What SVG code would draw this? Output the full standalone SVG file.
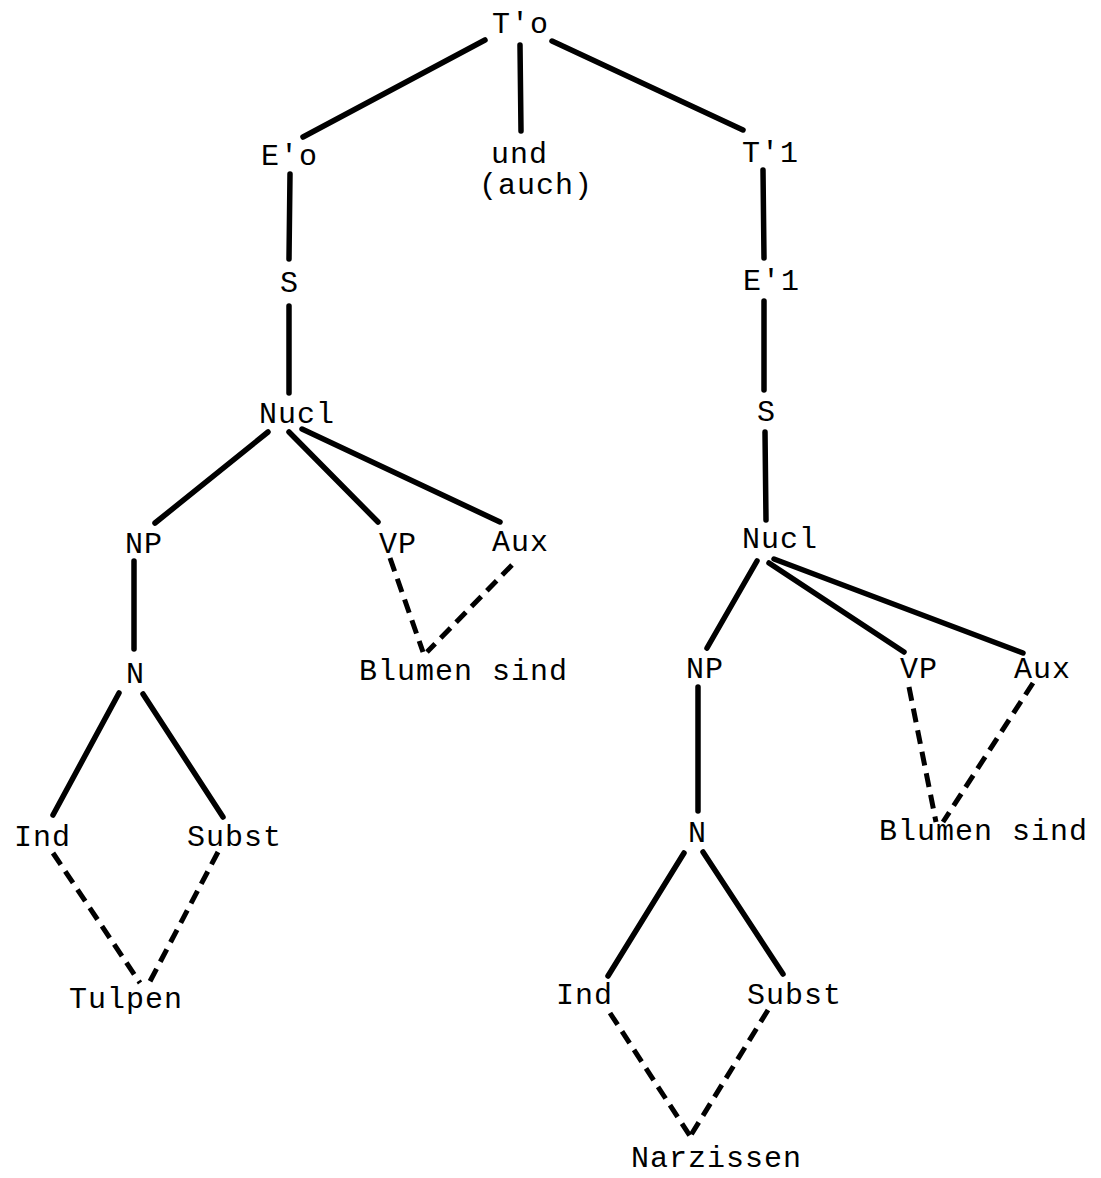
<svg xmlns="http://www.w3.org/2000/svg" width="1101" height="1178" viewBox="0 0 1101 1178">
<style>
text{font-family:"Liberation Mono","DejaVu Sans Mono",monospace;font-size:30px;letter-spacing:1px;fill:#000}
.e{stroke:#000;stroke-width:5.5;stroke-linecap:round;fill:none}
.d{stroke:#000;stroke-width:5;stroke-linecap:butt;fill:none;stroke-dasharray:14 8}
</style>
<rect width="1101" height="1178" fill="#fff"/>
<g id="connectors">
<line class="e" x1="485" y1="40" x2="303" y2="137"/>
<line class="e" x1="520" y1="45" x2="521" y2="131"/>
<line class="e" x1="552" y1="41" x2="743" y2="130"/>
<line class="e" x1="290" y1="174" x2="289" y2="259"/>
<line class="e" x1="289" y1="306" x2="289" y2="393"/>
<line class="e" x1="763" y1="170" x2="764" y2="258"/>
<line class="e" x1="764" y1="301" x2="764" y2="390"/>
<line class="e" x1="765" y1="432" x2="766" y2="520"/>
<line class="e" x1="268" y1="432" x2="155" y2="523"/>
<line class="e" x1="289" y1="432" x2="378" y2="522"/>
<line class="e" x1="302" y1="429" x2="500" y2="522"/>
<line class="e" x1="134" y1="561" x2="134" y2="649"/>
<line class="d" x1="390" y1="558" x2="423" y2="652"/>
<line class="d" x1="512" y1="565" x2="427" y2="652"/>
<line class="e" x1="757" y1="561" x2="707" y2="648"/>
<line class="e" x1="769" y1="563" x2="904" y2="652"/>
<line class="e" x1="774" y1="559" x2="1023" y2="653"/>
<line class="e" x1="698" y1="687" x2="698" y2="811"/>
<line class="d" x1="909" y1="687" x2="936" y2="822"/>
<line class="d" x1="1033" y1="683" x2="943" y2="822"/>
<line class="e" x1="119" y1="693" x2="53" y2="815"/>
<line class="e" x1="143" y1="694" x2="223" y2="817"/>
<line class="d" x1="53" y1="853" x2="140" y2="983"/>
<line class="d" x1="218" y1="852" x2="147" y2="987"/>
<line class="e" x1="684" y1="853" x2="608" y2="976"/>
<line class="e" x1="703" y1="852" x2="783" y2="974"/>
<line class="d" x1="610" y1="1013" x2="690" y2="1136"/>
<line class="d" x1="768" y1="1010" x2="691" y2="1135"/>
</g>
<g id="n-T0"><text x="492" y="33">T'o</text></g>
<g id="n-E0"><text x="261" y="165">E'o</text></g>
<g id="n-und"><text x="491" y="163">und</text><text x="479" y="194">(auch)</text></g>
<g id="n-T1"><text x="742" y="162">T'1</text></g>
<g id="n-S-left"><text x="280" y="292">S</text></g>
<g id="n-E1"><text x="743" y="290">E'1</text></g>
<g id="n-Nucl-left"><text x="259" y="423">Nucl</text></g>
<g id="n-S-right"><text x="757" y="421">S</text></g>
<g id="n-NP-left"><text x="125" y="553">NP</text></g>
<g id="n-VP-left"><text x="379" y="553">VP</text></g>
<g id="n-Aux-left"><text x="492" y="551">Aux</text></g>
<g id="n-Nucl-right"><text x="742" y="548">Nucl</text></g>
<g id="n-N-left"><text x="126" y="683">N</text></g>
<g id="n-Blumen-left"><text x="359" y="680">Blumen sind</text></g>
<g id="n-NP-right"><text x="686" y="678">NP</text></g>
<g id="n-VP-right"><text x="900" y="678">VP</text></g>
<g id="n-Aux-right"><text x="1014" y="678">Aux</text></g>
<g id="n-N-right"><text x="688" y="842">N</text></g>
<g id="n-Blumen-right"><text x="879" y="840">Blumen sind</text></g>
<g id="n-Ind-left"><text x="14" y="846">Ind</text></g>
<g id="n-Subst-left"><text x="187" y="846">Subst</text></g>
<g id="n-Tulpen"><text x="69" y="1008">Tulpen</text></g>
<g id="n-Ind-right"><text x="556" y="1004">Ind</text></g>
<g id="n-Subst-right"><text x="747" y="1004">Subst</text></g>
<g id="n-Narzissen"><text x="631" y="1167">Narzissen</text></g>
</svg>
